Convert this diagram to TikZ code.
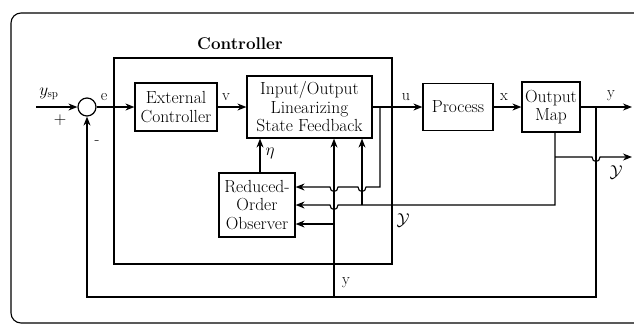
\documentclass[tikz,border=0pt]{standalone}
\usepackage{fontspec}
\usetikzlibrary{arrows.meta,calc}
\begin{document}
\begin{tikzpicture}[x=1pt,y=-1pt,line width=1.1pt,
  blk/.style={draw,line width=1.2pt,align=center,inner sep=0pt,font=\fontsize{17.5}{18.5}\selectfont},
  sig/.style={font=\fontsize{16}{17}\selectfont,inner sep=1pt},
  arr/.style={-{Stealth[length=9pt,width=7pt]}},
]
\clip (0,0) rectangle (634,325);
\draw[line width=1.1pt,rounded corners=10pt] (11,13) rectangle (720,323);
% controller frame
\node[draw,line width=1.8pt,minimum width=278,minimum height=206,inner sep=0pt] (ctrl) at (253,161) {};
\node[font=\bfseries\fontsize{17}{18}\selectfont] (ctrllab) at (240,44) {Controller};
% blocks
\node[draw,circle,line width=1.2pt,minimum size=18,inner sep=0pt] (sum) at (87,107) {};
\node[blk,minimum width=82,minimum height=48] (ext) at (176,107) {External\\Controller};
\node[blk,minimum width=125,minimum height=62] (iol) at (309.5,107) {Input/Output\\Linearizing\\State Feedback};
\node[blk,minimum width=70,minimum height=47] (proc) at (458,107) {Process};
\node[blk,minimum width=58,minimum height=50] (omap) at (551,107) {Output\\Map};
\node[blk,minimum width=76,minimum height=64] (obs) at (257,205) {Reduced-\\Order\\Observer};
% coordinates
\coordinate (ysp) at (36,107);
\coordinate (ubr) at (380,107);
\coordinate (ybr) at (596,107);
\coordinate (yout) at (632,107);
\coordinate (Ytop) at (555,132);
\coordinate (Ybr) at (555,157);
\coordinate (Yout) at (632,157);
\coordinate (Ycor) at (555,205);
\coordinate (Yup) at (362,205);
\coordinate (ucor) at (380,187);
\coordinate (bot) at (0,297);
\coordinate (yb) at (334,297);
\coordinate (yobs) at (334,224);
\coordinate (eta) at (260,173);
% main path
\draw[arr] (ysp) -- (sum.west);
\draw[arr] (sum.east) -- (ext.west);
\draw[arr] (ext.east) -- (iol.west);
\draw[arr] (iol.east) -- (proc.west);
\draw[arr] (proc.east) -- (omap.west);
\draw[arr] (omap.east) -- (yout);
% Y outputs
\draw[arr] (Ytop) -- (Ycor) -- (338,205) .. controls (338,211) and (330,211) .. (330,205) -- (obs.east |- Ycor);
\draw[arr] (Ybr) -- (592,157) .. controls (592,163) and (600,163) .. (600,157) -- (Yout);
\draw[arr] (Yup) -- (Yup |- iol.south);
% u feedback to observer
\draw[arr] (ubr) -- (ucor) -- (366,187) .. controls (366,193) and (358,193) .. (358,187) -- (338,187) .. controls (338,193) and (330,193) .. (330,187) -- (obs.east |- ucor);
% y feedback
\draw[arr] (ybr) -- (ybr |- bot) -- (sum.south |- bot) -- (sum.south);
\draw[arr] (yb) -- (yb |- iol.south);
\draw[arr] (yobs) -- (obs.east |- yobs);
% eta
\draw[arr] (eta) -- (eta |- iol.south);
% labels
\node[sig] at (49,94) {$y_{\mathrm{sp}}$};
\node[sig] at (60,120) {$+$};
\node[sig] at (97,143) {-};
\node[sig] at (104,97) {e};
\node[sig] at (226,97) {v};
\node[sig] at (406,97) {u};
\node[sig] at (504,97) {x};
\node[sig] at (611,96) {y};
\node[font=\fontsize{18}{19}\selectfont] at (616,172) {$\mathcal{Y}$};
\node[font=\fontsize{18}{19}\selectfont] at (403,220) {$\mathcal{Y}$};
\node[sig] at (346,283) {y};
\node[sig] at (270,153) {$\eta$};
\end{tikzpicture}
\end{document}
